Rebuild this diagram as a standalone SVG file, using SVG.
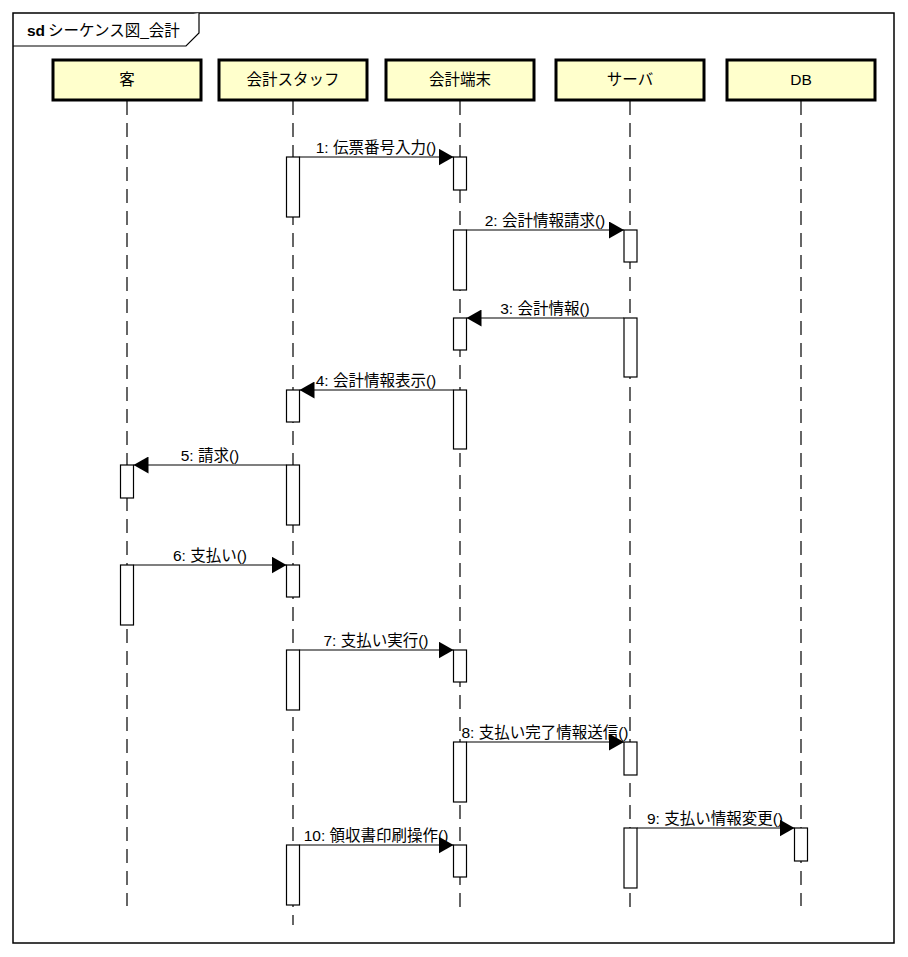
<svg xmlns="http://www.w3.org/2000/svg" width="908" height="957" viewBox="0 0 908 957">
  <style>
    text { font-family: "Liberation Sans", "Noto Sans CJK JP", sans-serif; fill: #000; }
    .frame { fill: #fff; stroke: #000; stroke-width: 1.5; }
    .tab { fill: #fff; stroke: #000; stroke-width: 1.2; }
    .head { fill: #ffffcc; stroke: #000; stroke-width: 3; }
    .headlabel { font-size: 15.5px; text-anchor: middle; }
    .life { stroke: #000; stroke-width: 1.2; stroke-dasharray: 14 8; fill: none; }
    .act { fill: #fff; stroke: #000; stroke-width: 1.2; }
    .msg { stroke: #000; stroke-width: 1.2; fill: none; marker-end: url(#arrow); }
    .mlabel { font-size: 15.5px; text-anchor: middle; }
  </style>
  <defs>
    <marker id="arrow" viewBox="0 0 15 17" refX="15" refY="8.5" markerWidth="15" markerHeight="17" markerUnits="userSpaceOnUse" orient="auto">
      <path d="M0,0 L15,8.5 L0,17 Z" fill="#000"/>
    </marker>
  </defs>

  <rect width="908" height="957" fill="#fff"/>

  <!-- Diagram frame with name tab -->
  <g id="frame">
    <rect class="frame" x="13" y="13" width="881" height="930"/>
    <path class="tab" d="M13,46 L186,46 L199,33 L199,13"/>
    <text x="27" y="36" font-size="15.5" font-weight="bold">sd</text>
    <text x="48" y="36" font-size="15.5">シーケンス図_会計</text>
  </g>

  <!-- Lifelines -->
  <g id="lifeline-customer">
    <line class="life" x1="127" y1="101" x2="127" y2="906"/>
    <rect class="head" x="53" y="60" width="148" height="40"/>
    <text class="headlabel" x="127" y="85">客</text>
    <rect class="act" x="120.5" y="465" width="13" height="33"/>
    <rect class="act" x="120.5" y="565" width="13" height="60"/>
  </g>

  <g id="lifeline-staff">
    <line class="life" x1="293" y1="101" x2="293" y2="925"/>
    <rect class="head" x="219" y="60" width="148" height="40"/>
    <text class="headlabel" x="293" y="85">会計スタッフ</text>
    <rect class="act" x="286.5" y="157" width="13" height="60"/>
    <rect class="act" x="286.5" y="390" width="13" height="32"/>
    <rect class="act" x="286.5" y="465" width="13" height="60"/>
    <rect class="act" x="286.5" y="565" width="13" height="32"/>
    <rect class="act" x="286.5" y="650" width="13" height="60"/>
    <rect class="act" x="286.5" y="845" width="13" height="60"/>
  </g>

  <g id="lifeline-terminal">
    <line class="life" x1="460" y1="101" x2="460" y2="907"/>
    <rect class="head" x="386" y="60" width="148" height="40"/>
    <text class="headlabel" x="460" y="85">会計端末</text>
    <rect class="act" x="453.5" y="157" width="13" height="33"/>
    <rect class="act" x="453.5" y="230" width="13" height="60"/>
    <rect class="act" x="453.5" y="318" width="13" height="32"/>
    <rect class="act" x="453.5" y="390" width="13" height="59"/>
    <rect class="act" x="453.5" y="650" width="13" height="32"/>
    <rect class="act" x="453.5" y="742" width="13" height="60"/>
    <rect class="act" x="453.5" y="845" width="13" height="32"/>
  </g>

  <g id="lifeline-server">
    <line class="life" x1="630" y1="101" x2="630" y2="907"/>
    <rect class="head" x="556" y="60" width="148" height="40"/>
    <text class="headlabel" x="630" y="85">サーバ</text>
    <rect class="act" x="624" y="230" width="13" height="32"/>
    <rect class="act" x="624" y="318" width="13" height="59"/>
    <rect class="act" x="624" y="742" width="13" height="33"/>
    <rect class="act" x="624" y="828" width="13" height="60"/>
  </g>

  <g id="lifeline-db">
    <line class="life" x1="801" y1="101" x2="801" y2="906"/>
    <rect class="head" x="727" y="60" width="148" height="40"/>
    <text class="headlabel" x="801" y="85">DB</text>
    <rect class="act" x="794.5" y="828" width="13" height="33"/>
  </g>

  <!-- Messages -->
  <g id="connectors">
    <line class="msg" x1="299.5" y1="157" x2="453.5" y2="157"/>
    <text class="mlabel" x="376" y="153">1: 伝票番号入力()</text>

    <line class="msg" x1="466.5" y1="230" x2="624" y2="230"/>
    <text class="mlabel" x="545" y="226">2: 会計情報請求()</text>

    <line class="msg" x1="624" y1="318" x2="466.5" y2="318"/>
    <text class="mlabel" x="545" y="314">3: 会計情報()</text>

    <line class="msg" x1="453.5" y1="390" x2="299.5" y2="390"/>
    <text class="mlabel" x="376" y="386">4: 会計情報表示()</text>

    <line class="msg" x1="286.5" y1="465" x2="133.5" y2="465"/>
    <text class="mlabel" x="210" y="461">5: 請求()</text>

    <line class="msg" x1="133.5" y1="565" x2="286.5" y2="565"/>
    <text class="mlabel" x="210" y="561">6: 支払い()</text>

    <line class="msg" x1="299.5" y1="650" x2="453.5" y2="650"/>
    <text class="mlabel" x="376" y="646">7: 支払い実行()</text>

    <line class="msg" x1="466.5" y1="742" x2="624" y2="742"/>
    <text class="mlabel" x="545" y="738">8: 支払い完了情報送信()</text>

    <line class="msg" x1="637" y1="828" x2="794.5" y2="828"/>
    <text class="mlabel" x="715" y="824">9: 支払い情報変更()</text>

    <line class="msg" x1="299.5" y1="845" x2="453.5" y2="845"/>
    <text class="mlabel" x="376" y="841">10: 領収書印刷操作()</text>
  </g>
</svg>
